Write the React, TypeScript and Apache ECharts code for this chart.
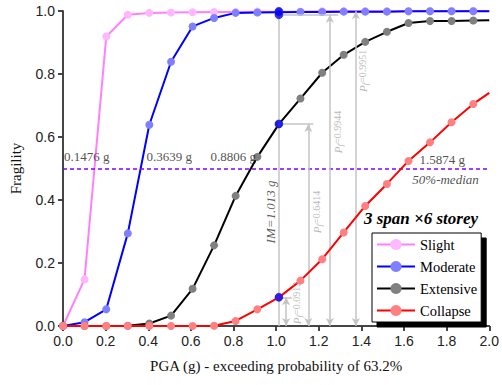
import React, { useEffect, useRef } from "react";
import * as echarts from "echarts";

// PGA (g) at which the fragility points are plotted
const pga = [0, 0.101, 0.203, 0.304, 0.405, 0.507, 0.608, 0.709, 0.81, 0.912, 1.013, 1.114, 1.216, 1.317, 1.418, 1.52, 1.621, 1.722, 1.823, 1.925];
const slight = [0, 0.148, 0.919, 0.988, 0.994, 0.995, 0.996, 0.997, 0.997, 0.998, 0.998, 0.998, 0.999, 0.999, 0.999, 0.999, 0.999, 1.0, 1.0, 1.0];
const moderate = [0, 0.012, 0.053, 0.294, 0.639, 0.839, 0.951, 0.978, 0.994, 0.995, 0.996, 0.997, 0.997, 0.998, 0.998, 0.998, 0.999, 0.999, 0.999, 0.999];
const extensive = [0, 0, 0, 0.001, 0.008, 0.033, 0.118, 0.256, 0.413, 0.537, 0.641, 0.722, 0.804, 0.861, 0.902, 0.934, 0.962, 0.968, 0.968, 0.97];
const collapse = [0, 0, 0, 0, 0, 0, 0, 0.001, 0.016, 0.053, 0.091, 0.144, 0.212, 0.297, 0.381, 0.451, 0.524, 0.583, 0.647, 0.705];
// curve values at the right edge (PGA = 2.0 g), drawn without a marker
const endPga = 2.0;
const endValues = [1.0, 0.999, 0.971, 0.74];

const seriesNames = ["Slight", "Moderate", "Extensive", "Collapse"];
const lineColors = ["#ff80ff", "#0000ff", "#000000", "#ff0000"];
const markerColors = ["#ffb8ff", "#8080ff", "#808080", "#ff8080"];

const imValue = 1.013;
const imHits = [0.0912, 0.6414, 0.988, 0.999];
const medianLevel = 0.5;
const medianLabels = ["0.1476 g", "0.3639 g", "0.8806 g", "1.5874 g"];
const xTicks = { min: 0, max: 2, interval: 0.2 };
const yTicks = { min: 0, max: 1, interval: 0.2 };

const SERIF = "Liberation Serif";
const SANS = "Liberation Sans";

export default function App() {
  const ref = useRef<HTMLDivElement>(null);
  useEffect(() => {
    if (!ref.current) return;
    const chart = echarts.init(ref.current, undefined, { renderer: "svg" });
    const allVals = [slight, moderate, extensive, collapse];

    const curveSeries = allVals.map((vals, i) => ({
      name: seriesNames[i],
      type: "line",
      xAxisIndex: 0,
      yAxisIndex: 0,
      data: [
        ...pga.map((x, k) => [x, vals[k]]),
        { value: [endPga, endValues[i]], symbol: "none" },
      ],
      symbol: "circle",
      symbolSize: 8,
      showAllSymbol: true,
      lineStyle: { color: lineColors[i], width: 2 },
      itemStyle: { color: markerColors[i], borderWidth: 0 },
      color: lineColors[i],
      z: 2 + i,
      clip: false,
    }));

    const grey = "#c4c4c4";
    const seg = (a: number[], b: number[], arrow: boolean) => [
      { coord: a, symbol: arrow ? "arrow" : "none" },
      { coord: b, symbol: arrow ? "arrow" : "none" },
    ];

    const lbl = (text: string, italic = false) => ({
      show: true,
      formatter: text,
      position: "right",
      distance: 0,
      fontFamily: SERIF,
      fontStyle: italic ? "italic" : "normal",
      fontSize: 13,
      color: "#222",
    });

    const annotSeries = {
      name: "annot",
      type: "scatter",
      symbolSize: 0,
      silent: true,
      z: 8,
      data: [
        { value: [0.005, 0.537], label: lbl(medianLabels[0]) },
        { value: [0.392, 0.537], label: lbl(medianLabels[1]) },
        { value: [0.692, 0.537], label: lbl(medianLabels[2]) },
        { value: [1.673, 0.53], label: lbl(medianLabels[3]) },
        { value: [1.639, 0.464], label: lbl("50%-median", true) },
        { value: [0.972, 0.362], label: { show: true, formatter: "IM=1.013 g", position: "inside", rotate: 90, fontFamily: SERIF, fontStyle: "italic", fontSize: 13, color: "#333" } },
        ...[
          { v: [1.097, 0.073], t: "0.0912" },
          { v: [1.19, 0.362], t: "0.6414" },
          { v: [1.29, 0.616], t: "0.9944" },
          { v: [1.407, 0.81], t: "0.9951" },
        ].map((o) => ({
          value: o.v,
          label: {
            show: true,
            position: "inside",
            rotate: 90,
            formatter: `{p|P}{s|f}{n|=${o.t}}`,
            rich: {
              p: { fontFamily: SERIF, fontStyle: "italic", fontSize: 11, color: "#a8a8a8" },
              s: { fontFamily: SERIF, fontStyle: "italic", fontSize: 9, color: "#a8a8a8", verticalAlign: "bottom", padding: [5, 0, 0, 0] },
              n: { fontFamily: SERIF, fontSize: 10, color: "#a8a8a8" },
            },
          },
        })),
      ],
      markLine: {
        silent: true,
        symbol: ["none", "none"],
        symbolSize: [6, 8],
        label: { show: false },
        lineStyle: { color: grey, width: 1.5, type: "solid" },
        data: [
          seg([imValue, 0], [imValue, 1], false),
          seg([imValue, imHits[0]], [1.073, imHits[0]], false),
          seg([1.047, imHits[0]], [1.047, 0], true),
          seg([imValue, imHits[1]], [1.174, imHits[1]], false),
          seg([1.151, imHits[1]], [1.151, 0], true),
          seg([imValue, imHits[2]], [1.29, imHits[2]], false),
          seg([1.252, imHits[2]], [1.252, 0], true),
          seg([1.374, imHits[3]], [1.374, 0], true),
        ],
      },
    };

    const medianSeries = {
      name: "median",
      type: "line",
      data: [],
      silent: true,
      z: 7,
      markLine: {
        silent: true,
        symbol: ["none", "none"],
        label: { show: false },
        lineStyle: { color: "#8000ff", type: [4, 3], width: 1.5 },
        data: [{ yAxis: medianLevel }],
      },
    };

    const imSeries = {
      name: "IM",
      type: "scatter",
      symbolSize: 8,
      silent: true,
      z: 9,
      clip: false,
      itemStyle: { color: "#0000ff", borderColor: "#000080", borderWidth: 0.5 },
      data: imHits.map((v) => [imValue, v]),
    };

    const axisLine = { show: true, lineStyle: { color: "#3a3a3a", width: 1.5 } };

    chart.setOption({
      animation: false,
      backgroundColor: "#fff",
      textStyle: { fontFamily: SERIF },
      grid: { left: 62, right: 12, top: 11, bottom: 59, containLabel: false },
      title: {
        text: "3 span ×6 storey",
        left: 364,
        top: 210,
        padding: 0,
        textStyle: { fontFamily: SERIF, fontStyle: "italic", fontWeight: "bold", fontSize: 17, color: "#000" },
      },
      legend: {
        data: seriesNames,
        orient: "vertical",
        left: 372,
        top: 233,
        padding: [4, 4, 4, 4],
        itemGap: 7,
        itemWidth: 38,
        itemHeight: 14,
        backgroundColor: "#fff",
        borderColor: "#000",
        borderWidth: 1,
        borderRadius: 0,
        shadowColor: "#000",
        shadowBlur: 0,
        shadowOffsetX: 5,
        shadowOffsetY: 5,
        z: 20,
        textStyle: { fontFamily: SERIF, fontSize: 14.5, color: "#000" },
      },
      xAxis: [
        {
          type: "value",
          ...xTicks,
          name: "PGA (g) - exceeding probability of 63.2%",
          nameLocation: "middle",
          nameGap: 32,
          nameTextStyle: { fontFamily: SERIF, fontSize: 15, color: "#111" },
          axisLine,
          axisTick: { show: true, inside: false, length: 5, lineStyle: { color: "#3a3a3a", width: 1.5 } },
          axisLabel: { fontFamily: SANS, fontSize: 14, color: "#222", margin: 8, formatter: (v: number) => v.toFixed(1) },
          splitLine: { show: false },
        },
        {
          type: "value",
          ...xTicks,
          position: "top",
          axisLine,
          axisTick: { show: true, inside: true, length: 5, lineStyle: { color: "#3a3a3a", width: 1.5 } },
          axisLabel: { show: false },
          splitLine: { show: false },
        },
      ],
      yAxis: [
        {
          type: "value",
          ...yTicks,
          name: "Fragility",
          nameLocation: "middle",
          nameGap: 40,
          nameTextStyle: { fontFamily: SERIF, fontSize: 15, color: "#111" },
          axisLine,
          axisTick: { show: true, inside: false, length: 5, lineStyle: { color: "#3a3a3a", width: 1.5 } },
          axisLabel: { fontFamily: SANS, fontSize: 14, color: "#222", margin: 8, formatter: (v: number) => v.toFixed(1) },
          splitLine: { show: false },
        },
        {
          type: "value",
          ...yTicks,
          position: "right",
          axisLine,
          axisTick: { show: true, inside: true, length: 5, lineStyle: { color: "#3a3a3a", width: 1.5 } },
          axisLabel: { show: false },
          splitLine: { show: false },
        },
      ],
      series: [medianSeries, annotSeries, ...curveSeries, imSeries],
    });
    return () => chart.dispose();
  }, []);
  return (
    <div
      ref={ref}
      style={{ position: "fixed", left: 0, top: 0, width: 502, height: 385, background: "#fff" }}
    />
  );
}
